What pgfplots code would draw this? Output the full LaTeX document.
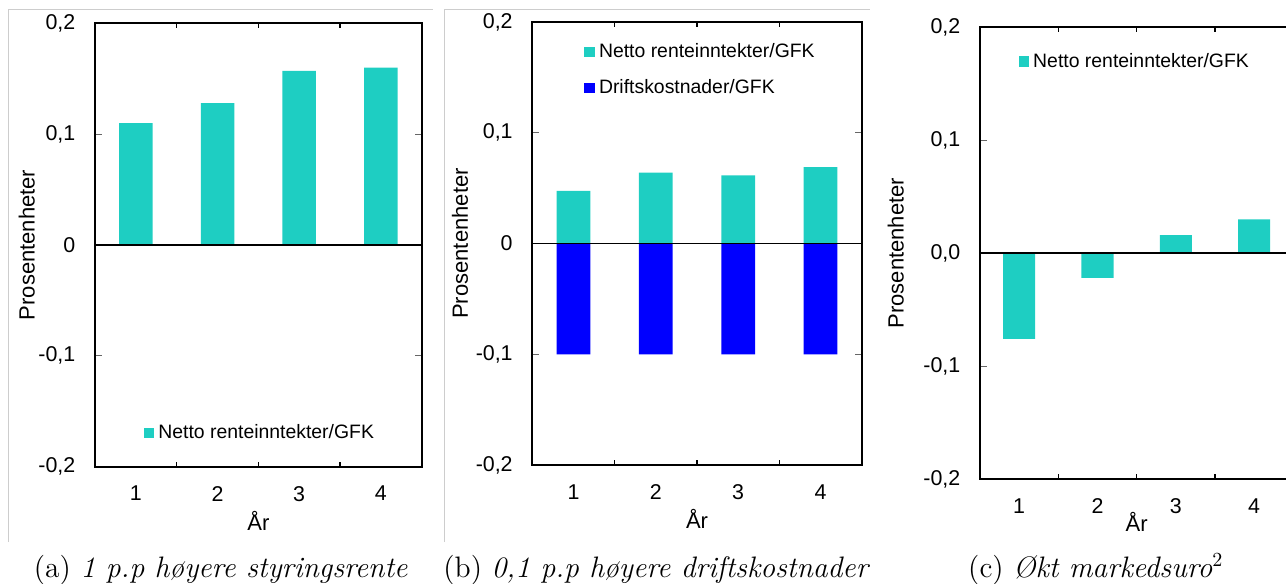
\documentclass[border=0pt]{standalone}
\usepackage{fontspec}
\newfontfamily\arial{Liberation Sans}
\usepackage{pgfplots}
\pgfplotsset{compat=1.18}
\definecolor{tealbar}{RGB}{30,206,194}
\definecolor{bluebar}{RGB}{0,0,255}
\definecolor{frame}{RGB}{205,205,205}
\pgfplotsset{
  panel/.style={
    scale only axis, anchor=north west,
    xmin=0.5, xmax=4.5, ymin=-0.2, ymax=0.2,
    xtick={1,2,3,4}, xticklabels={1,2,3,4},
    major x tick style={draw=none},
    minor xtick={1.5,2.5,3.5},
    minor tick length=2.5pt,
    ytick={-0.2,-0.1,0,0.1,0.2},
    tick align=inside,
    major tick length=3.3pt,
    ytick style={black!60, line width=0.5pt},
    minor x tick style={black, line width=0.6pt},
    axis line style={line width=1pt},
    tick label style={font=\arial\fontsize{10.7}{12.5}\selectfont},
    yticklabel style={xshift=-6.3pt},
    xticklabel style={yshift=-6.2pt},
    label style={font=\arial\fontsize{11}{13}\selectfont},
    xlabel={År}, ylabel={Prosentenheter},
    legend style={draw=none, fill=none, inner sep=0pt, anchor=west,
      font=\arial\fontsize{9.7}{11.6}\selectfont},
    legend cell align=left,
    legend image code/.code={\fill[##1] (0pt,-2.65pt) rectangle (5.3pt,2.65pt);},
  },
  tbar/.style={ybar, bar width=0.41, fill=tealbar, draw=none},
  bbar/.style={ybar, bar width=0.41, fill=bluebar, draw=none},
}
\begin{document}
\begin{tikzpicture}
\path[use as bounding box] (0,0) rectangle (643pt,-292pt);
\clip (0,0) rectangle (643pt,-292pt);
\draw[frame, line width=0.5pt] (4.15pt,-271pt) -- (4.15pt,-4.65pt) -- (216.7pt,-4.65pt);
\draw[frame, line width=0.5pt] (222.15pt,-271pt) -- (222.15pt,-4.65pt) -- (435pt,-4.65pt);

% (a)
\begin{axis}[panel, at={(47.5pt,-11.65pt)}, width=163.35pt, height=221.7pt,
  yticklabels={{-0,2},{-0,1},{0},{0,1},{0,2}},
  ylabel style={at={(axis description cs:-0.209,0.5)}, anchor=center},
  xlabel style={at={(axis description cs:0.5,0)}, anchor=base, yshift=-31.7pt},
  legend style={at={(axis description cs:0.148,0.076)}}]
\addplot[tbar] coordinates {(1,0.110) (2,0.128) (3,0.157) (4,0.160)};
\addlegendentry{Netto renteinntekter/GFK}
\draw[line width=0.85pt] (axis cs:0.5,0) -- (axis cs:4.5,0);
\end{axis}

% (b)
\begin{axis}[panel, at={(266.15pt,-11pt)}, width=164.7pt, height=221.5pt,
  yticklabels={{-0,2},{-0,1},{0},{0,1},{0,2}},
  ylabel style={at={(axis description cs:-0.2195,0.5)}, anchor=center},
  xlabel style={at={(axis description cs:0.5,0)}, anchor=base, yshift=-31.7pt},
  legend style={at={(axis description cs:0.157,0.892)}, row sep=5.5pt}]
\addplot[tbar] coordinates {(1,0.0475) (2,0.064) (3,0.0615) (4,0.069)};
\addlegendentry{Netto renteinntekter/GFK}
\addplot[bbar] coordinates {(1,-0.1) (2,-0.1) (3,-0.1) (4,-0.1)};
\addlegendentry{Driftskostnader/GFK}
\draw[line width=0.85pt] (axis cs:0.5,0) -- (axis cs:4.5,0);
\end{axis}

% (c)
\begin{axis}[panel, at={(490pt,-13.65pt)}, width=156.65pt, height=225.85pt,
  yticklabels={{-0,2},{-0,1},{0,0},{0,1},{0,2}},
  ylabel style={at={(axis description cs:-0.269,0.5)}, anchor=center},
  xlabel style={at={(axis description cs:0.5,0)}, anchor=base, yshift=-26.3pt},
  legend style={at={(axis description cs:0.122,0.924)}}]
\addplot[tbar] coordinates {(1,-0.076) (2,-0.022) (3,0.016) (4,0.030)};
\addlegendentry{Netto renteinntekter/GFK}
\draw[line width=0.85pt] (axis cs:0.5,0) -- (axis cs:4.5,0);
\end{axis}

\node[anchor=base, font=\fontsize{14.8}{17.5}\selectfont] at (110.4pt,-288.5pt) {(a) \textit{1 p.p høyere styringsrente}};
\node[anchor=base, font=\fontsize{14.8}{17.5}\selectfont] at (328.35pt,-288.5pt) {(b) \textit{0,1 p.p høyere driftskostnader}};
\node[anchor=base, font=\fontsize{14.8}{17.5}\selectfont] at (547.9pt,-288.5pt) {(c) \textit{Økt markedsuro}$^2$};
\end{tikzpicture}
\end{document}
